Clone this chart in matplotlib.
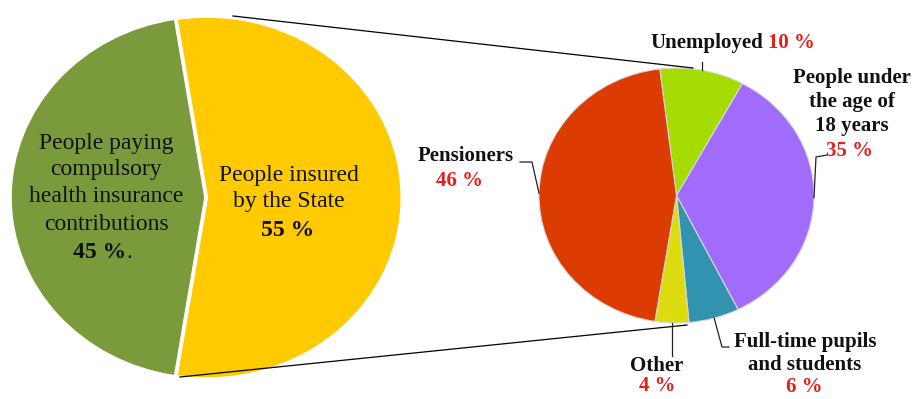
import matplotlib
matplotlib.use('Agg')
import matplotlib.pyplot as plt
import numpy as np

W, H, DPI = 916, 399, 100

# ---- data ----
main_labels = ['People paying\ncompulsory\nhealth insurance\ncontributions', 'People insured\nby the State']
main_values = [45, 55]
main_colors = ['#7A9A3C', '#FFCA00']

sub_labels = ['Unemployed', 'People under\nthe age of\n18 years', 'Full-time pupils\nand students', 'Other', 'Pensioners']
sub_values = [10, 35, 6, 4, 46]
sub_colors = ['#A4DC04', '#A16CFC', '#3193B0', '#DCDC10', '#DC3B02']

RED = '#E3201B'
plt.rcParams['font.family'] = ['Liberation Serif', 'DejaVu Serif']

fig = plt.figure(figsize=(W / DPI, H / DPI), dpi=DPI)
fig.patch.set_facecolor('white')


def pie_axes(cx, cy, rx, ry):
    ax = fig.add_axes([(cx - rx) / W, (H - cy - ry) / H, 2 * rx / W, 2 * ry / H])
    return ax


# left pie
L = dict(cx=205, cy=197.5, rx=194, ry=180.5)
ax1 = pie_axes(**L)
w1, _ = ax1.pie(main_values, colors=main_colors, startangle=99, counterclock=True,
                radius=1, explode=[0, 0.012],
                wedgeprops=dict(edgecolor='white', linewidth=1.2))
ax1.set_aspect('auto'); ax1.set_xlim(-1, 1); ax1.set_ylim(-1, 1); ax1.axis('off')
for w in w1:
    w.set_clip_on(False)

# right pie
R = dict(cx=676.5, cy=195.5, rx=137.5, ry=127.5)
ax2 = pie_axes(**R)
w2, _ = ax2.pie(sub_values, colors=sub_colors, startangle=97, counterclock=False,
                radius=1, wedgeprops=dict(edgecolor='#d8d8d8', linewidth=0.8))
ax2.set_aspect('auto'); ax2.set_xlim(-1, 1); ax2.set_ylim(-1, 1); ax2.axis('off')
for w in w2:
    w.set_clip_on(False)

# overlay in pixel coordinates
ax0 = fig.add_axes([0, 0, 1, 1])
ax0.set_xlim(0, W); ax0.set_ylim(H, 0); ax0.axis('off')
ax0.patch.set_alpha(0)

# connecting lines
ax0.plot([233, 693], [16, 68], color='black', lw=0.9)
ax0.plot([180, 687], [377, 325], color='black', lw=0.9)

# left pie texts
fs_l = 17
y0 = [143, 170, 197, 225]
for y, line in zip(y0, main_labels[0].split('\n')):
    ax0.text(106, y, line, ha='center', va='center', fontsize=fs_l, color='#111')
ax0.text(100, 253, f'{main_values[0]} %', ha='center', va='center', fontsize=fs_l,
         fontweight='bold', color='#111')
ax0.text(126, 253, '.', ha='left', va='center', fontsize=fs_l, color='#111')
for y, line in zip([175, 202], main_labels[1].split('\n')):
    ax0.text(289, y, line, ha='center', va='center', fontsize=fs_l, color='#111')
ax0.text(288, 230, f'{main_values[1]} %', ha='center', va='center', fontsize=fs_l,
         fontweight='bold', color='#111')


# leader lines from wedge mid-angles
def anchor(w, P):
    th = np.deg2rad((w.theta1 + w.theta2) / 2)
    return P['cx'] + P['rx'] * np.cos(th), P['cy'] - P['ry'] * np.sin(th)


elbows = [
    [(None, 62)],
    [(816, 157), (827, 155)],
    [(722, 347), (729, 347)],
    [(None, 356)],
    [(532, 162), (520, 162)],
]
for w, el in zip(w2, elbows):
    ax_, ay_ = anchor(w, R)
    xs, ys = [ax_], [ay_]
    for ex, ey in el:
        xs.append(ax_ if ex is None else ex)
        ys.append(ey)
    ax0.plot(xs, ys, color='#222', lw=0.9)

fs_r = 15
kw = dict(fontsize=fs_r, fontweight='bold', va='center')
# Unemployed
ax0.text(763, 43, sub_labels[0], ha='right', color='#111', **kw)
ax0.text(768, 43, f'{sub_values[0]} %', ha='left', color=RED, **kw)
# Under 18
for y, line in zip([78, 102, 126], sub_labels[1].split('\n')):
    ax0.text(852, y, line, ha='center', color='#111', **kw)
ax0.text(850, 151, f'{sub_values[1]} %', ha='center', color=RED, **kw)
# Full-time
for y, line in zip([342, 365], sub_labels[2].split('\n')):
    ax0.text(805, y, line, ha='center', color='#111', **kw)
ax0.text(804, 387, f'{sub_values[2]} %', ha='center', color=RED, **kw)
# Other
ax0.text(657, 366, sub_labels[3], ha='center', color='#111', **kw)
ax0.text(657, 386, f'{sub_values[3]} %', ha='center', color=RED, **kw)
# Pensioners
ax0.text(466, 156, sub_labels[4], ha='center', color='#111', **kw)
ax0.text(460, 181, f'{sub_values[4]} %', ha='center', color=RED, **kw)

fig.savefig('out.png', dpi=DPI, facecolor='white')
